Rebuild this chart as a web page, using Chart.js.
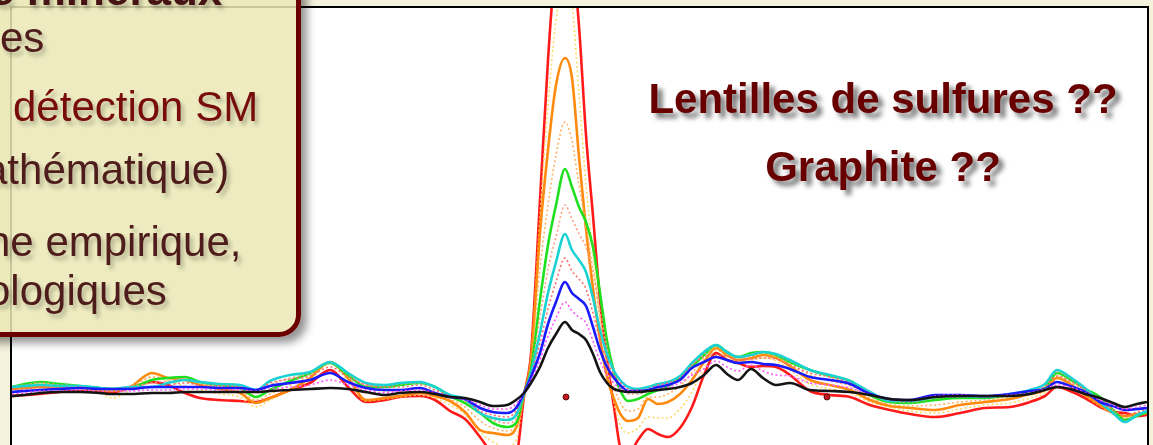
<!DOCTYPE html>
<html lang="fr">
<head>
<meta charset="utf-8">
<title>Profils EM</title>
<script src="https://cdn.jsdelivr.net/npm/chart.js@4/dist/chart.umd.min.js"></script>
<style>
  html, body { margin:0; padding:0; width:1153px; height:445px; overflow:hidden;
    background:#f4f1dc; font-family:"Liberation Sans", Arial, Helvetica, sans-serif; }
  #panel { position:absolute; left:10px; top:6px; width:1135px; height:470px;
    background:#ffffff; border:2px solid #000; border-bottom:none; }
  #plot { position:absolute; left:12px; top:8px; width:1135px; height:437px; }
  #plot canvas { filter: blur(0.35px); }
  #box { position:absolute; left:-60px; top:-60px; width:351px; height:387px;
    background:rgba(234,232,180,0.86); border:5px solid #6b0000;
    border-radius:0 0 22px 0; box-shadow:6px 6px 9px rgba(0,0,0,0.42); }
  .t { position:absolute; white-space:nowrap; font-size:42px; line-height:1;
    color:#4f1c1c; text-shadow:3px 4px 4px rgba(0,0,0,0.25); }
  .ttl { position:absolute; white-space:nowrap; font-size:44px; line-height:1;
    font-weight:bold; color:#461414; text-shadow:3px 4px 4px rgba(0,0,0,0.25); }
  .big { position:absolute; left:583px; width:600px; text-align:center;
    white-space:nowrap; font-size:42px; line-height:1; font-weight:bold;
    color:#680000; text-shadow:5px 5px 5px rgba(0,0,0,0.55); }
</style>
</head>
<body>
<div id="panel"></div>
<div id="plot"><canvas id="c" width="1135" height="437"></canvas></div>

<div id="box"></div>
<div class="ttl" style="left:-10px; top:-32px;">e minéraux</div>
<div class="t" style="left:0px; top:17px;">es</div>
<div class="t" style="left:13px; top:86px; color:#780c0c;">détection SM</div>
<div class="t" style="left:-16px; top:149px;">athématique)</div>
<div class="t" style="left:-13px; top:221px;">ne empirique,</div>
<div class="t" style="left:-13px; top:270px;">ologiques</div>

<div class="big" style="top:78px;">Lentilles de sulfures ??</div>
<div class="big" style="top:146px;">Graphite ??</div>

<script>
// Station positions along the profile
const stations = [0, 13, 28, 48, 68, 88, 100, 118, 140, 156, 173, 188, 208, 228, 244, 258, 278, 298, 318, 336,
  354, 373, 388, 408, 423, 438, 453, 468, 481, 495, 504, 512, 519, 528, 536, 544, 553, 560, 567, 574,
  581, 588, 595, 602, 609, 616, 626, 636, 646, 656, 668, 680, 692, 704, 715, 726, 739, 751, 764, 778,
  798, 818, 838, 858, 878, 898, 923, 948, 973, 998, 1018, 1033, 1045, 1058, 1073, 1088, 1101, 1113, 1125, 1135];

// Response profiles (solid curves)
const redVals = [-1,0,1,3,4, 3,3,7,13,10, 2,-3,-5,-6,-7, -3,5,12,25,8, -7,-5,-2,-1,-5, -16,-24,-42,-60,-75,
  -65,-1,41,195,335, 440,505,445,369,260, 179,95,36,-12,-55, -60,-45,-34,-39,-42, -33,-12,20,42,35,
  32,28,29,28,20, 4,0,-2,-10,-15, -19,-22,-18,-13,-12, -7,-1,8,4,-3, -12,-17,-18,-21,-20];
const orangeVals = [6,7,8,7,7, 5,4,8,22,17, 15,10,6,2,-8, -3,5,17,33,17, -5,-3,-1,2,-1, -6,-17,-35,-38,-40,
  -33,0,35,162,245, 310,337,317,238,166, 106,56,18,-4,-20, -26,-23,-4,-9,-7, 1,15,33,47,40,
  35,37,40,37,29, 15,10,5,-5,-11, -13,-15,-10,-7,-4, 1,5,17,11,0, -10,-18,-21,-19,-18];
const greenVals = [8,11,13,11,9, 7,6,7,15,17, 18,13,10,7,-2, 5,14,22,32,20, 8,8,10,12,8, -1,-8,-18,-28,-32,
  -28,1,25,95,150, 190,226,208,188,173, 148,102,54,23,3, -6,-4,1,5,9, 17,28,40,50,43,
  38,42,43,40,33, 25,19,14,0,-7, -8,-5,-3,-3,0, 3,7,22,16,6, -2,-15,-25,-21,-17];
const cyanVals = [8,9,10,9,9, 7,6,8,8,12, 15,13,11,10,5, 14,20,23,33,22, 12,10,12,13,8, 0,-4,-18,-23,-25,
  -20,1,22,62,102, 133,161,145,135,123, 97,65,41,24,14, 8,6,8,11,13, 19,32,43,50,43,
  38,40,43,41,35, 25,20,14,3,-6, -6,-2,-1,-2,1, 5,11,25,18,7, -7,-18,-27,-20,-16];
const blueVals = [3,4,5,6,7, 6,6,6,8,8, 8,8,7,7,5, 9,12,15,22,13, 7,5,5,7,2, -2,-4,-13,-17,-18,
  -13,2,18,42,71, 93,113,102,96,89, 68,45,28,17,9, 4,4,5,8,10, 15,27,33,38,35,
  32,33,31,30,26, 18,15,11,1,-4, -5,0,0,-1,1, 4,6,13,9,3, -7,-11,-15,-14,-13];
const blackVals = [-1,0,2,3,3, 2,1,1,2,2, 3,3,3,3,3, 4,5,6,7,6, 3,0,2,3,1, -2,-3,-7,-11,-10,
  -5,2,12,28,47, 61,73,65,61,55, 41,23,12,6,4, 3,3,4,5,6, 8,12,20,30,21,
  15,26,17,10,12, 5,4,3,0,-4, -5,-2,-1,-1,-1, 1,5,8,6,1, -3,-8,-12,-9,-7];

// Intermediate profiles (dotted curves)
const yellowVals = [3,4,5,6,6, 2,-3,5,18,14, 9,5,1,-2,-12, -5,5,15,32,14, -6,-4,-2,0,-3, -10,-19,-37,-47,-52,
  -45,0,38,178,290, 375,415,392,300,210, 140,75,28,-8,-32, -38,-33,-22,-23,-23, -14,3,27,45,38,
  34,35,37,34,25, 11,6,2,-7,-13, -16,-18,-14,-10,-8, -3,2,13,8,-1, -11,-19,-22,-20,-19];
const peachVals = [7,9,10,9,8, 6,5,8,18,17, 16,12,8,5,-5, 1,10,20,33,18, 2,3,4,7,3, -4,-12,-26,-33,-36,
  -31,0,30,127,190, 240,273,254,210,170, 125,78,35,8,-9, -16,-14,-2,-2,1, 9,22,36,48,41,
  37,39,42,38,31, 20,14,9,-3,-9, -11,-10,-7,-5,-2, 2,6,19,13,3, -6,-16,-23,-20,-18];
const salmonVals = [8,10,12,10,9, 7,6,8,12,14, 16,13,10,8,2, 10,17,22,32,21, 10,9,11,12,8, 0,-6,-18,-25,-28,
  -24,1,23,78,126, 158,190,176,161,148, 122,84,47,23,8, 1,1,4,8,11, 18,30,41,50,43,
  38,41,43,40,34, 25,19,14,1,-6, -7,-3,-2,-2,0, 4,9,23,17,6, -4,-16,-26,-20,-16];
const pinkVals = [6,6,8,7,8, 6,6,7,8,10, 12,10,9,8,5, 12,16,19,28,18, 10,8,8,10,5, -1,-4,-16,-20,-22,
  -16,1,20,52,86, 113,137,124,116,106, 82,55,35,20,12, 6,5,6,10,12, 17,30,38,40,39,
  35,36,37,36,30, 22,18,12,2,-5, -6,-1,0,-2,1, 4,8,19,14,5, -7,-14,-21,-17,-14];
const magentaVals = [1,2,4,4,5, 4,4,4,5,5, 6,6,5,5,4, 6,8,10,15,10, 5,2,4,5,2, -2,-4,-10,-14,-14,
  -9,2,15,35,59, 77,93,84,78,72, 54,34,20,12,6, 4,4,4,6,8, 12,20,26,34,28,
  24,30,24,20,19, 12,10,7,0,-4, -5,-1,0,-1,0, 2,6,10,8,2, -5,-10,-14,-12,-10];

// Marked stations
const markX = [554, 815];
const markY = [-2, -2];

const pts = vals => vals.map((v, i) => ({ x: stations[i], y: v }));

function solid(label, vals, color, order) {
  return { label, data: pts(vals), borderColor: color, borderWidth: 2.6,
    pointRadius: 0, fill: false, order };
}
function dotted(label, vals, color, order) {
  return { label, data: pts(vals), borderColor: color, borderWidth: 1.6,
    borderDash: [2, 2.5], pointRadius: 0, fill: false, order };
}

const datasets = [
  solid('rouge', redVals, '#ff1a1a', 11),
  dotted('jaune', yellowVals, '#ffd966', 10),
  solid('orange', orangeVals, '#ff8a0d', 9),
  dotted('pêche', peachVals, '#ffb366', 8),
  solid('vert', greenVals, '#1fe01f', 7),
  dotted('saumon', salmonVals, '#ff9f80', 6),
  solid('cyan', cyanVals, '#1ad2d2', 5),
  dotted('rose', pinkVals, '#ff6b6b', 4),
  solid('bleu', blueVals, '#1a1aff', 3),
  dotted('magenta', magentaVals, '#ff55ff', 2),
  solid('noir', blackVals, '#141414', 1),
  { type: 'scatter', label: 'repères', data: markX.map((x, i) => ({ x, y: markY[i] })),
    pointRadius: 3, pointBackgroundColor: '#c4161c', pointBorderColor: '#5a0d0d',
    pointBorderWidth: 1, showLine: false, order: 0 }
];

new Chart(document.getElementById('c'), {
  type: 'line',
  data: { datasets },
  options: {
    responsive: false,
    animation: false,
    events: [],
    layout: { padding: 0, autoPadding: false },
    plugins: { legend: { display: false }, tooltip: { enabled: false } },
    elements: { line: { cubicInterpolationMode: 'monotone' }, point: { radius: 0 } },
    scales: {
      x: { type: 'linear', min: 0, max: 1135, display: false },
      y: { type: 'linear', min: -50, max: 387, display: false }
    }
  }
});
</script>
</body>
</html>
